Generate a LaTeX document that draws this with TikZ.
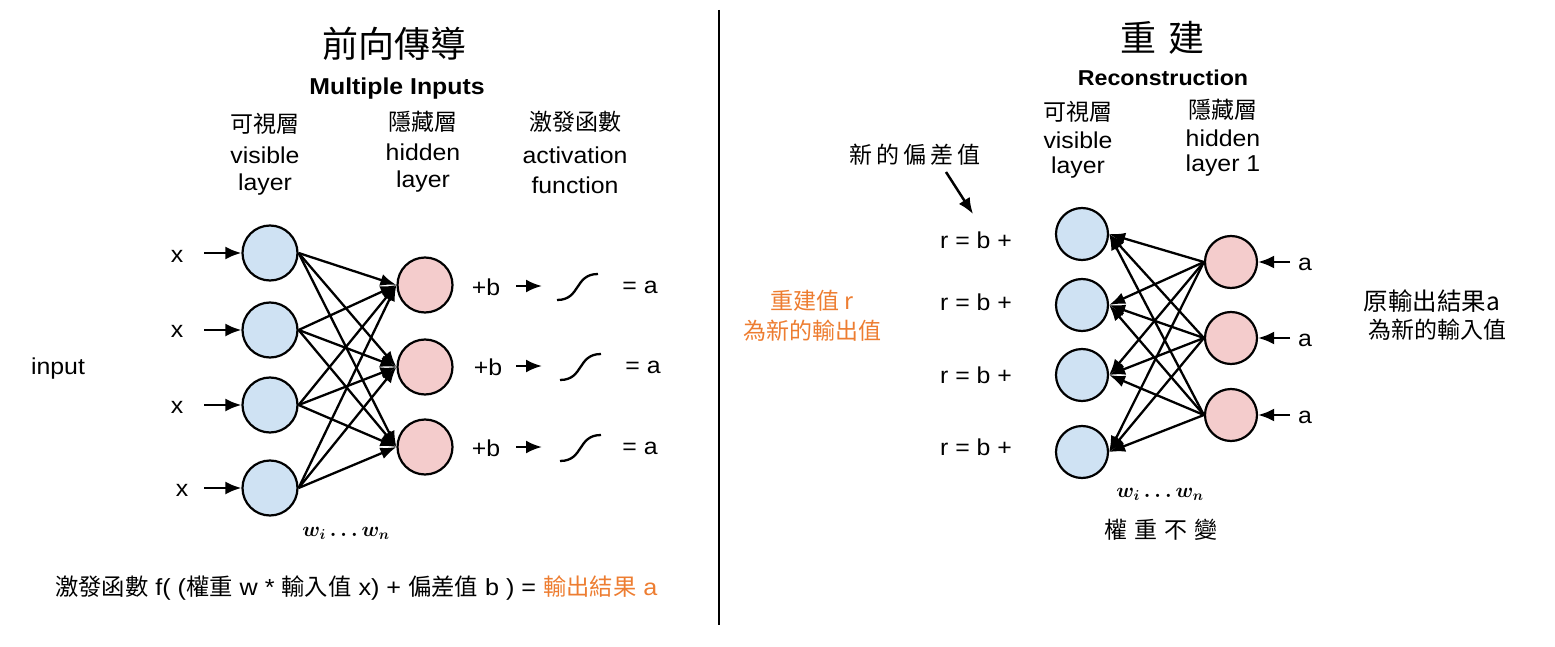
\documentclass[tikz,border=0pt]{standalone}
\usepackage{amsmath}
\usepackage{fontspec}
\setmainfont[FakeStretch=1.08]{Liberation Sans}
\newfontfamily\cjk{Noto Sans CJK TC}
\usetikzlibrary{arrows.meta}
\definecolor{visblue}{HTML}{CFE2F3}
\definecolor{hidpink}{HTML}{F4CCCC}
\definecolor{orng}{HTML}{ED7D31}
\tikzset{
  vis/.style={circle, draw, line width=2.2pt, fill=visblue, minimum size=55pt, inner sep=0pt},
  visr/.style={vis, minimum size=52pt},
  hid/.style={circle, draw, line width=2.2pt, fill=hidpink, minimum size=55pt, inner sep=0pt},
  hidr/.style={hid, minimum size=52pt},
  lbl/.style={font=\fontsize{23}{26}\selectfont, inner sep=0pt},
  bld/.style={font=\bfseries\fontsize{23}{26}\selectfont, inner sep=0pt},
  cj/.style={font=\cjk\fontsize{23}{26}\selectfont, inner sep=0pt},
  cjt/.style={font=\cjk\fontsize{36}{40}\selectfont, inner sep=0pt},
  mth/.style={font=\fontsize{21}{24}\selectfont, inner sep=0pt},
  arr/.style={-{Latex[length=16pt,width=13pt]}, line width=2.5pt},
  edge/.style={-{Latex[length=16pt,width=12pt]}, line width=2.3pt},
  sig/.style={line width=2.3pt},
}
\begin{document}
\begin{tikzpicture}[x=1pt,y=-1pt]
\useasboundingbox (0,0) rectangle (1555,647);
% ---------------- left: forward pass ----------------
\node[cjt] (t1) at (394,44) {前向傳導};
\node[bld] (mi) at (397,89) {Multiple Inputs};
\node[cj] (vlc) at (265,124) {可視層};
\node[lbl] (vl1) at (265,155) {visible};
\node[lbl] (vl2) at (265,185) {layer};
\node[cj] (hlc) at (423,122) {隱藏層};
\node[lbl] (hl1) at (423,152) {hidden};
\node[lbl] (hl2) at (423,182) {layer};
\node[cj] (afc) at (575,122) {激發函數};
\node[lbl] (af1) at (575,155) {activation};
\node[lbl] (af2) at (575,185) {function};

\node[lbl] (inp) at (58,369) {input};

\foreach \i/\y in {1/253,2/330,3/405,4/488}{
  \node[vis] (v\i) at (270,\y) {};
  \coordinate (s\i) at (204,\y);
  \draw[arr] (s\i) -- (v\i);
}
\node[lbl] (x1) at (177,256) {x};
\node[lbl] (x2) at (177,331) {x};
\node[lbl] (x3) at (177,407) {x};
\node[lbl] (x4) at (182,490) {x};

\foreach \j/\y in {1/285,2/367,3/447}{
  \node[hid] (h\j) at (425,\y) {};
}
\foreach \i in {1,...,4}{
  \foreach \j in {1,2,3}{
    \draw[edge] (v\i.east) -- (h\j.west);
  }
}

\foreach \j/\y/\bx/\sx/\ax in {1/287/486/557/640, 2/367/488/560/643, 3/448/486/560/640}{
  \node[lbl] (pb\j) at (\bx,\y) {+b};
  \coordinate (ps\j) at (516,\y-1);
  \coordinate (pe\j) at (542,\y-1);
  \draw[arr] (ps\j) -- (pe\j);
  \coordinate (sg\j) at (\sx,\y+13);
  \coordinate (sh\j) at (\sx+41,\y-13);
  \draw[sig] (sg\j) .. controls (\sx+24,\y+13) and (\sx+17,\y-13) .. (sh\j);
  \node[lbl] (ea\j) at (\ax,\y) {= a};
}

\node[mth] (w1) at (346,533) {$\boldsymbol{w_i\,{\ldots}\,w_n}$};

\node[anchor=west, inner sep=0pt, font=\fontsize{23.3}{26}\selectfont] (form) at (55,588)
  {{\cjk 激發函數} f( ({\cjk 權重} w * {\cjk 輸入值} x) + {\cjk 偏差值} b ) = \textcolor{orng}{{\cjk 輸出結果} a}};

% divider
\coordinate (dv1) at (719,10);
\coordinate (dv2) at (719,625);
\draw[line width=1.8pt] (dv1) -- (dv2);

% ---------------- right: reconstruction ----------------
\node[cjt] (t2) at (1162,38) {重\hspace{12pt}建};
\node[bld, font=\bfseries\fontsize{21.5}{24}\selectfont] (rc) at (1163,78) {Reconstruction};
\node[cj] (rvc) at (1078,112) {可視層};
\node[lbl] (rv1) at (1078,140) {visible};
\node[lbl] (rv2) at (1078,168) {layer};
\node[cj] (rhc) at (1223,110) {隱藏層};
\node[lbl] (rh1) at (1223,138) {hidden};
\node[lbl] (rh2) at (1223,166) {layer 1};

\node[cj] (nb) at (915,155) {新\,的\,偏\,差\,值};
\coordinate (nbs) at (946,172);
\coordinate (nbt) at (973,214);
\draw[arr] (nbs) -- (nbt);

\foreach \i/\y in {1/234,2/305,3/375,4/452}{
  \node[visr] (b\i) at (1082,\y) {};
}
\node[lbl] (r1) at (976,240) {r = b +};
\node[lbl] (r2) at (976,302) {r = b +};
\node[lbl] (r3) at (976,375) {r = b +};
\node[lbl] (r4) at (976,447) {r = b +};

\foreach \j/\y in {1/262,2/338,3/415}{
  \node[hidr] (p\j) at (1231,\y) {};
  \coordinate (q\j) at (1290,\y);
  \draw[arr] (q\j) -- (p\j);
  \node[lbl] (a\j) at (1305,\y+2) {a};
}
\foreach \i in {1,...,4}{
  \foreach \j in {1,2,3}{
    \draw[edge] (p\j.west) -- (b\i.east);
  }
}

\node[mth] (w2) at (1160,494) {$\boldsymbol{w_i\,{\ldots}\,w_n}$};
\node[cj] (wc) at (1161,530) {權\hspace{7pt}重\hspace{7pt}不\hspace{7pt}變};

\node[cj, text=orng] (o1) at (812,301) {重建值 r};
\node[cj, text=orng] (o2) at (812,331) {為新的輸出值};
\node[cj, font=\cjk\fontsize{24.5}{26}\selectfont] (k1) at (1432,301) {原輸出結果a};
\node[cj] (k2) at (1437,330) {為新的輸入值};
\end{tikzpicture}
\end{document}
